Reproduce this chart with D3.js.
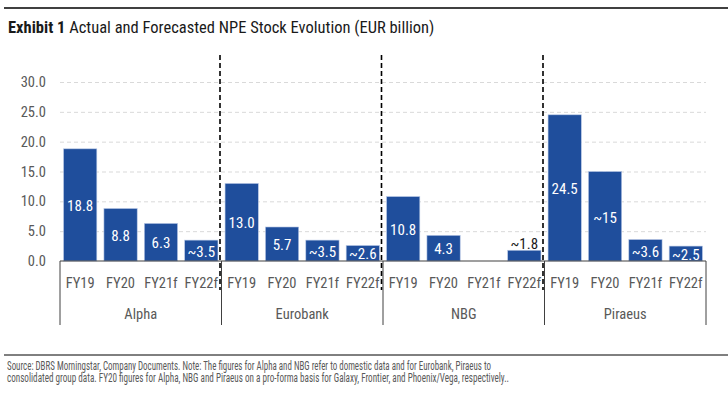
<!DOCTYPE html>
<meta charset="utf-8">
<style>
body { margin: 0; background: #fff; }
text { font-family: "Liberation Sans Narrow", "Roboto", sans-serif; font-stretch: condensed; }
.grid line { stroke: #d9d9d9; stroke-dasharray: 4,3; }
.grid path { display: none; }
</style>
<svg width="728" height="399"></svg>
<script src="https://cdn.jsdelivr.net/npm/d3@7"></script>
<script>

var banks = ["Alpha", "Eurobank", "NBG", "Piraeus"];
var periods = ["FY19", "FY20", "FY21f", "FY22f"];
var alpha = [18.8, 8.8, 6.3, 3.5];
var eurobank = [13.0, 5.7, 3.5, 2.6];
var nbg = [10.8, 4.3, null, 1.8];
var piraeus = [24.5, 15, 3.6, 2.5];
var alphaLbl = ["18.8", "8.8", "6.3", "~3.5"];
var eurobankLbl = ["13.0", "5.7", "~3.5", "~2.6"];
var nbgLbl = ["10.8", "4.3", "", "~1.8"];
var piraeusLbl = ["24.5", "~15", "~3.6", "~2.5"];
var yTicks = [0, 5, 10, 15, 20, 25, 30];

var series = [alpha, eurobank, nbg, piraeus];
var labels = [alphaLbl, eurobankLbl, nbgLbl, piraeusLbl];

var rows = [];
banks.forEach(function (b, i) {
  periods.forEach(function (p, j) {
    rows.push({key: b + "|" + p, bank: b, period: p, value: series[i][j], label: labels[i][j]});
  });
});

var svg = d3.select("svg");
var mLeft = 60, mRight = 706, mTop = 82, mBottom = 261;

var x = d3.scaleBand()
    .domain(rows.map(function (d) { return d.key; }))
    .range([mLeft, mRight])
    .paddingInner(0.176)
    .paddingOuter(0.088);

var y = d3.scaleLinear().domain([0, 30]).range([mBottom, mTop]);

// header rule + title
svg.append("line").attr("x1", 4).attr("x2", 728).attr("y1", 8).attr("y2", 8)
    .attr("stroke", "#000").attr("stroke-width", 1.5);
var title = svg.append("text").attr("x", 8).attr("y", 33)
    .attr("font-size", 16.5).attr("fill", "#1a1a1a");
title.append("tspan").attr("font-weight", "bold").text("Exhibit 1");
title.append("tspan").text(" Actual and Forecasted NPE Stock Evolution (EUR billion)");

// gridlines
svg.append("g").attr("class", "grid")
    .attr("transform", "translate(" + mLeft + ",0)")
    .call(d3.axisRight(y).tickValues(yTicks.slice(1)).tickSize(mRight - mLeft).tickFormat(""));

// y labels
svg.append("g").selectAll("text").data(yTicks).enter().append("text")
    .attr("x", 46).attr("y", function (d) { return y(d); })
    .attr("dy", "0.35em").attr("text-anchor", "end")
    .attr("font-size", 14.5).attr("fill", "#595959")
    .text(function (d) { return d3.format(".1f")(d); });

// bars
var bars = rows.filter(function (d) { return d.value != null; });
svg.append("g").selectAll("rect").data(bars).enter().append("rect")
    .attr("x", function (d) { return x(d.key); })
    .attr("width", x.bandwidth())
    .attr("y", function (d) { return y(d.value); })
    .attr("height", function (d) { return y(0) - y(d.value); })
    .attr("fill", "#1f4e9c")
    .attr("stroke", "#b9c9e6").attr("stroke-width", 0.6);

// value labels
svg.append("g").selectAll("text").data(bars).enter().append("text")
    .attr("x", function (d) { return x(d.key) + x.bandwidth() / 2; })
    .attr("y", function (d) {
      var h = y(0) - y(d.value);
      return h < 12 ? y(d.value) - 7 : (y(d.value) + y(0)) / 2 + 1;
    })
    .attr("dy", "0.35em").attr("text-anchor", "middle")
    .attr("font-size", 15)
    .attr("fill", function (d) { return (y(0) - y(d.value)) < 12 ? "#1a1a1a" : "#fff"; })
    .text(function (d) { return d.label; });

// category axis box
var step = x.step();
var edges = [mLeft];
banks.forEach(function (b, i) { edges.push(mLeft + (i + 1) * 4 * step); });
edges[edges.length - 1] = mRight;

svg.append("line").attr("x1", mLeft).attr("x2", mRight).attr("y1", mBottom).attr("y2", mBottom)
    .attr("stroke", "#404040").attr("stroke-width", 1.2);
svg.append("g").selectAll("line").data(edges).enter().append("line")
    .attr("x1", function (d) { return d; }).attr("x2", function (d) { return d; })
    .attr("y1", mBottom).attr("y2", 325)
    .attr("stroke", "#404040").attr("stroke-width", 1);

// dashed separators
svg.append("g").selectAll("line").data(edges.slice(1, -1)).enter().append("line")
    .attr("x1", function (d) { return d - 1.5; }).attr("x2", function (d) { return d - 1.5; })
    .attr("y1", 55).attr("y2", 290)
    .attr("stroke", "#000").attr("stroke-width", 1.6).attr("stroke-dasharray", "5,3");

// period labels
svg.append("g").selectAll("text").data(rows).enter().append("text")
    .attr("x", function (d) { return x(d.key) + x.bandwidth() / 2; })
    .attr("y", 283).attr("dy", "0.35em").attr("text-anchor", "middle")
    .attr("font-size", 14.5).attr("fill", "#595959")
    .text(function (d) { return d.period; });

// bank labels
svg.append("g").selectAll("text").data(banks).enter().append("text")
    .attr("x", function (d, i) { return (edges[i] + edges[i + 1]) / 2; })
    .attr("y", 314).attr("dy", "0.35em").attr("text-anchor", "middle")
    .attr("font-size", 14.5).attr("fill", "#595959")
    .text(function (d) { return d; });

// footer
svg.append("line").attr("x1", 4).attr("x2", 728).attr("y1", 355).attr("y2", 355)
    .attr("stroke", "#000").attr("stroke-width", 1);
var notes = [
  "Source: DBRS Morningstar, Company Documents. Note: The figures for Alpha and NBG refer to domestic data and for Eurobank, Piraeus to",
  "consolidated group data. FY20 figures for Alpha, NBG and Piraeus on a pro-forma basis for Galaxy, Frontier, and Phoenix/Vega, respectively.."
];
var noteW = [484, 502];
svg.append("g").selectAll("text").data(notes).enter().append("text")
    .attr("x", 7).attr("y", function (d, i) { return 370 + i * 12; })
    .attr("font-size", 12.5).attr("fill", "#595959")
    .attr("textLength", function (d, i) { return noteW[i]; })
    .attr("lengthAdjust", "spacingAndGlyphs")
    .text(function (d) { return d; });

</script>
